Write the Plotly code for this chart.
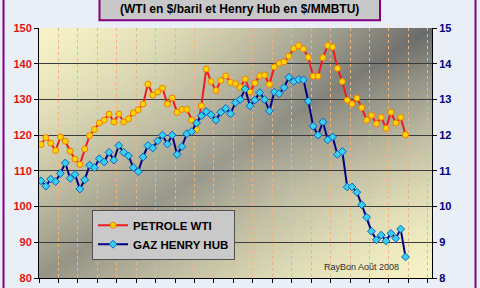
import base64, struct, zlib
import plotly.graph_objects as go

# ---------------- data ----------------
wti = [117.4, 119.3, 117.8, 115.7, 119.5, 118.3, 115.5, 113.3, 111.8, 116.1,
       119.9, 121.6, 123.4, 124.2, 125.9, 123.7, 125.9, 123.7, 124.6, 126.2,
       127.1, 128.7, 134.3, 131.2, 132.1, 133.2, 128.7, 130.4, 126.4, 127.2,
       127.2, 124.2, 121.6, 128.2, 138.5, 135.0, 132.5, 135.3, 136.6, 134.8,
       134.4, 133.4, 135.7, 132.1, 134.6, 136.6, 136.8, 134.2, 139.1, 140.1,
       140.5, 142.1, 144.2, 145.1, 144.1, 141.8, 136.5, 136.5, 141.7, 145.1,
       144.7, 138.7, 135.0, 129.8, 128.7, 130.4, 127.7, 124.2, 125.5, 123.2,
       125.0, 121.9, 126.4, 123.4, 125.0, 120.1]
henry_hub = [10.72, 10.57, 10.77, 10.70, 10.93, 11.22, 10.79, 10.90, 10.49, 10.75,
             11.16, 11.09, 11.34, 11.25, 11.52, 11.30, 11.71, 11.52, 11.42, 11.09,
             10.98, 11.39, 11.71, 11.64, 11.84, 12.00, 11.75, 12.00, 11.46, 11.68,
             12.04, 12.10, 12.34, 12.54, 12.66, 12.57, 12.42, 12.64, 12.75, 12.60,
             12.91, 13.00, 13.29, 12.82, 12.98, 13.19, 13.00, 12.68, 13.21, 13.16,
             13.33, 13.62, 13.50, 13.56, 13.55, 12.95, 12.25, 12.00, 12.37, 11.87,
             11.95, 11.46, 11.54, 10.55, 10.55, 10.40, 10.05, 9.70, 9.31, 9.07,
             9.20, 9.04, 9.25, 9.11, 9.37, 8.59]
days = list(range(len(wti)))
series_names = ["PETROLE WTI", "GAZ HENRY HUB"]
subtitle = "(WTI en $/baril et Henry Hub en $/MMBTU)"
credit = "RayBon Août 2008"

# ---------------- gradient background for the plot area ----------------
def make_gradient_png(w=160, h=104):
    yellow = (247, 243, 198)
    g_tr = (106, 106, 106)
    g_mid = (156, 155, 142)
    g_bl = (150, 148, 134)
    rows = []
    for j in range(h):
        v = j / (h - 1)
        row = bytearray([0])
        for i in range(w):
            u = i / (w - 1)
            t = (u + v) / 2
            wgt = (1 - abs(2 * t - 1)) ** 1.4
            s = (v - u + 1) / 2
            if s < 0.5:
                f = s / 0.5
                gray = [g_tr[k] + (g_mid[k] - g_tr[k]) * f for k in range(3)]
            else:
                f = (s - 0.5) / 0.5
                gray = [g_mid[k] + (g_bl[k] - g_mid[k]) * f for k in range(3)]
            c = [int(yellow[k] * (1 - wgt) + gray[k] * wgt) for k in range(3)]
            row += bytes(c)
        rows.append(bytes(row))
    raw = b"".join(rows)

    def chunk(tag, data):
        return (struct.pack(">I", len(data)) + tag + data
                + struct.pack(">I", zlib.crc32(tag + data) & 0xffffffff))
    png = b"\x89PNG\r\n\x1a\n"
    png += chunk(b"IHDR", struct.pack(">IIBBBBB", w, h, 8, 2, 0, 0, 0))
    png += chunk(b"IDAT", zlib.compress(raw, 9))
    png += chunk(b"IEND", b"")
    return "data:image/png;base64," + base64.b64encode(png).decode()

FONT = "Liberation Sans, Arial, sans-serif"

fig = go.Figure()
fig.add_trace(go.Scatter(
    x=days, y=wti, name=series_names[0], mode="lines+markers",
    line=dict(color="#ee1c1c", width=2),
    marker=dict(symbol="circle", size=6, color="#ffd400",
                line=dict(color="#f08000", width=1)),
))
fig.add_trace(go.Scatter(
    x=days, y=henry_hub, name=series_names[1], mode="lines+markers", yaxis="y2",
    line=dict(color="#000080", width=2),
    marker=dict(symbol="diamond", size=6, color="#38d0f0",
                line=dict(color="#1060c0", width=1)),
))

fig.update_layout(
    width=480, height=288,
    margin=dict(l=39, r=48, t=28, b=4),
    paper_bgcolor="#eaeef6",
    plot_bgcolor="rgba(0,0,0,0)",
    font=dict(family=FONT, size=11, color="#000"),
    showlegend=True,
    legend=dict(
        x=0.135, y=0.273, xanchor="left", yanchor="top",
        bgcolor="#c9c9c9", bordercolor="#505050", borderwidth=1,
        font=dict(family=FONT, size=11.5, color="#000", weight="bold"),
        itemwidth=30, tracegroupgap=2,
    ),
    xaxis=dict(
        range=[-0.41, 80.45], tick0=-0.41, dtick=4,
        showticklabels=False, ticks="outside", ticklen=4, tickcolor="#000",
        showline=True, linecolor="#000", linewidth=1,
        showgrid=True, gridcolor="#eeb47c", griddash="dot", gridwidth=1,
        zeroline=False,
    ),
    yaxis=dict(
        range=[80, 150], dtick=10, ticks="outside", ticklen=4, tickcolor="#000",
        showline=True, linecolor="#000", linewidth=1,
        showgrid=True, gridcolor="#3c3c3c", gridwidth=1, zeroline=False,
        tickfont=dict(family=FONT, size=11, color="#e01010", weight="bold"),
    ),
    yaxis2=dict(
        range=[8, 15], dtick=1, overlaying="y", side="right",
        ticks="outside", ticklen=4, tickcolor="#000",
        showline=True, linecolor="#000", linewidth=1,
        showgrid=False, zeroline=False,
        tickfont=dict(family=FONT, size=11, color="#000080", weight="bold"),
    ),
    images=[dict(source=make_gradient_png(), xref="paper", yref="paper",
                 x=0, y=1, sizex=1, sizey=1, xanchor="left", yanchor="top",
                 sizing="stretch", layer="below")],
)

# purple frame sides and title box (paper coords, outside the plot area)
pw, ph = 393.0, 256.0
def px(xp):
    return (xp - 39) / pw
def py(yp):
    return (284 - yp) / ph

fig.add_shape(type="line", xref="paper", yref="paper",
              x0=px(3.5), x1=px(3.5), y0=py(-5), y1=py(300),
              line=dict(color="#800080", width=2))
fig.add_shape(type="line", xref="paper", yref="paper",
              x0=px(475.5), x1=px(475.5), y0=py(-5), y1=py(300),
              line=dict(color="#800080", width=2))
fig.add_shape(type="rect", xref="paper", yref="paper",
              x0=px(99.5), x1=px(380), y0=py(20), y1=py(-5),
              fillcolor="#c8c8c8", line=dict(color="#800080", width=2))
fig.add_annotation(text="<b>" + subtitle + "</b>", xref="paper", yref="paper",
                   x=px(240), y=py(9), xanchor="center", yanchor="middle",
                   showarrow=False,
                   font=dict(family=FONT, size=12, color="#000"))
fig.add_annotation(text=credit, xref="paper", yref="paper",
                   x=px(361), y=py(273), xanchor="center", yanchor="middle",
                   showarrow=False,
                   font=dict(family=FONT, size=9, color="#303030"))

fig.write_html("out.html")
